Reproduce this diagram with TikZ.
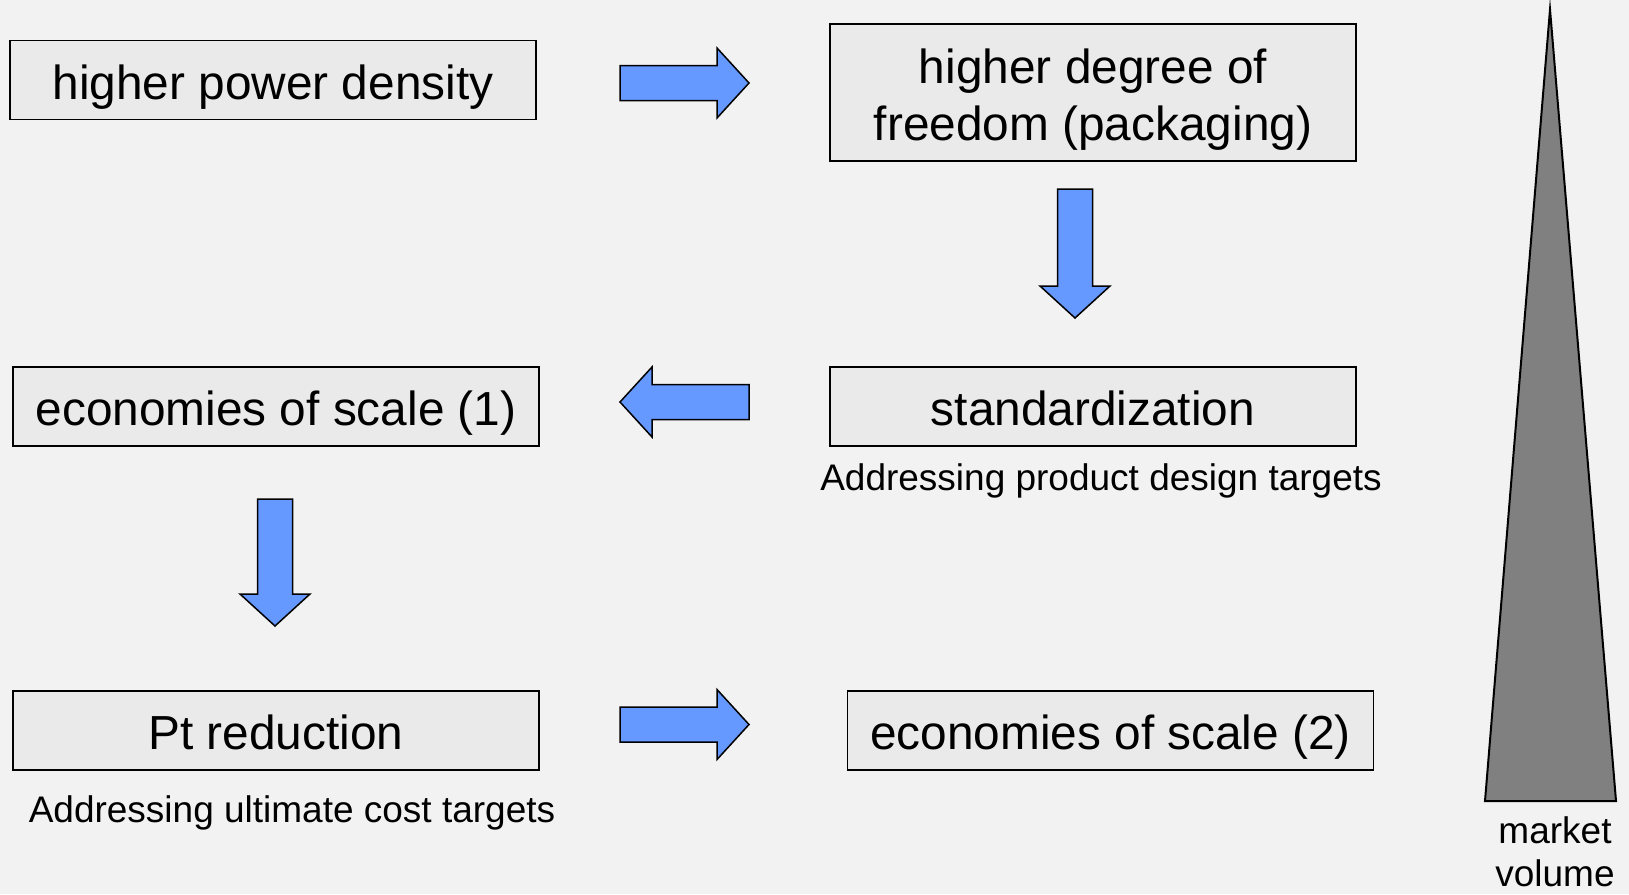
\documentclass[tikz,border=0pt]{standalone}
\usepackage{fontspec}
\setmainfont{Liberation Sans}
\definecolor{bgcol}{HTML}{F2F2F2}
\definecolor{boxcol}{HTML}{EAEAEA}
\definecolor{arrcol}{HTML}{6699FF}
\definecolor{tricol}{HTML}{808080}
\begin{document}
\begin{tikzpicture}[x=1pt,y=-1pt,
  box/.style={draw=black,line width=1.3pt,fill=boxcol,minimum width=526pt,minimum height=79pt,inner sep=0pt,align=center,
    text height=38.8pt,text depth=0pt,font=\fontsize{47.8}{57}\selectfont},
  barrow/.style={draw=black,line width=1.5pt,fill=arrcol,line join=miter},
  caption/.style={anchor=base,inner sep=0pt,font=\fontsize{37}{42.6}\selectfont,align=center}]
\useasboundingbox[fill=bgcol] (0,0) rectangle (1629,894);
% boxes
\node[box] (b1) at (273,80) {higher power density};
\node[box,minimum height=137pt,text height=96pt] (b2) at (1093,92.5) {higher degree of\\freedom (packaging)};
\node[box] (b3) at (276,406.5) {economies of scale (1)};
\node[box] (b4) at (1093,406.5) {standardization};
\node[box] (b5) at (276,730.5) {Pt reduction};
\node[box] (b6) at (1110.5,730.5) {economies of scale (2)};
% captions
\node[caption] (c4) at (1101,490) {Addressing product design targets};
\node[caption] (c5) at (292,822) {Addressing ultimate cost targets};
% block arrows
\draw[barrow] (620,65.5) -- (717,65.5) -- (717,48) -- (749,83) -- (717,118) -- (717,100.5) -- (620,100.5) -- cycle;
\draw[barrow] (1057.5,189) -- (1057.5,286) -- (1040,286) -- (1075,318) -- (1110,286) -- (1092.5,286) -- (1092.5,189) -- cycle;
\draw[barrow] (749,384.5) -- (652,384.5) -- (652,367) -- (620,402) -- (652,437) -- (652,419.5) -- (749,419.5) -- cycle;
\draw[barrow] (257.5,499) -- (257.5,594) -- (240,594) -- (275,626) -- (310,594) -- (292.5,594) -- (292.5,499) -- cycle;
\draw[barrow] (620,707) -- (717,707) -- (717,689.5) -- (749,724.5) -- (717,759.5) -- (717,742) -- (620,742) -- cycle;
% market volume triangle
\draw[fill=tricol,line width=2pt,line join=miter,miter limit=20] (1550,9.4) -- (1616,801) -- (1485,801) -- cycle;
\node[caption] (mv) at (1555,886) {market\\volume};
\end{tikzpicture}
\end{document}
